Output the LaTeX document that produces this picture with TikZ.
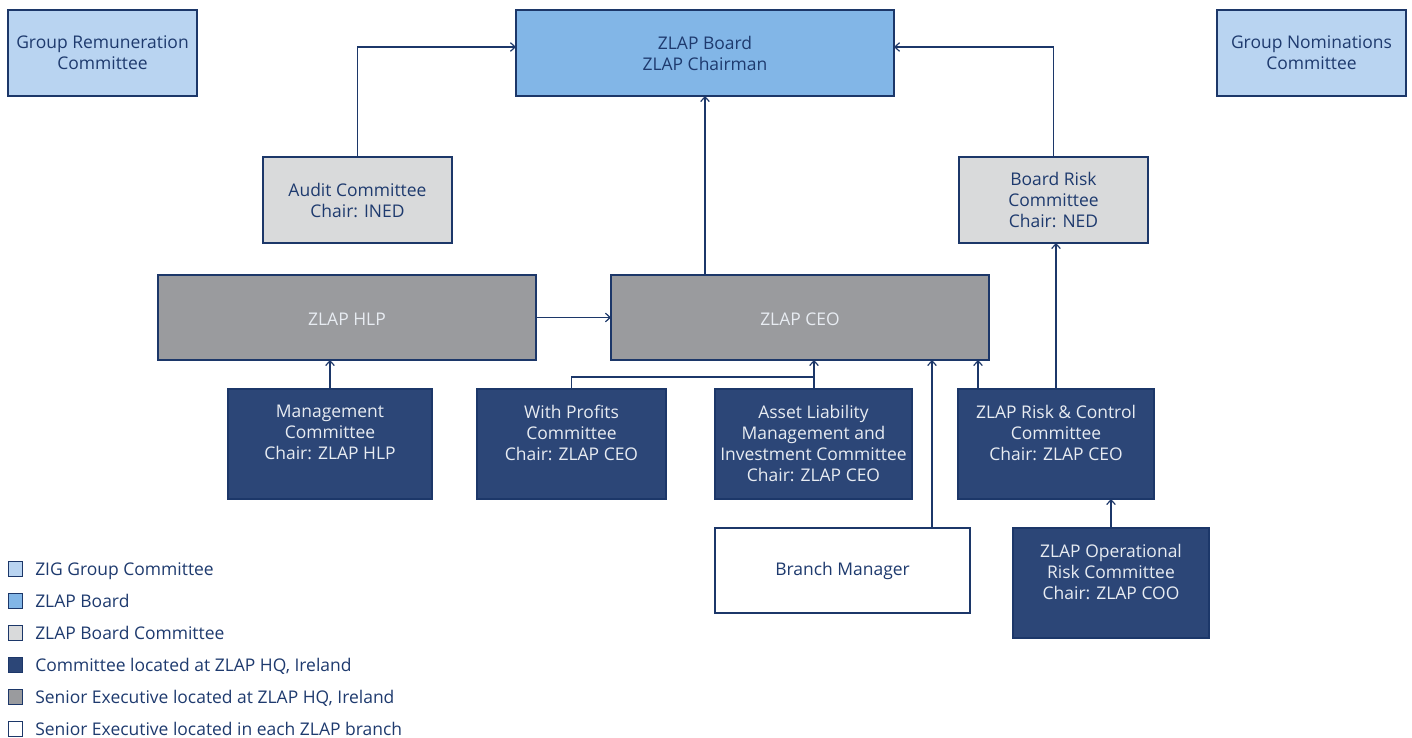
\documentclass[tikz,border=0pt]{standalone}
\usepackage{fontspec}
\setmainfont{Open Sans}
\usetikzlibrary{arrows.meta}
\definecolor{navy}{HTML}{1C3769}
\definecolor{txtnavy}{HTML}{1E3A6E}
\definecolor{lblue}{HTML}{B9D4F1}
\definecolor{bblue}{HTML}{82B6E7}
\definecolor{lgray}{HTML}{D9DADB}
\definecolor{mgray}{HTML}{9A9B9E}
\definecolor{dblue}{HTML}{2C4677}
\definecolor{ltext}{HTML}{E8ECF2}
\begin{document}
\begin{tikzpicture}[x=0.75pt,y=-0.75pt,
  every node/.style={font=\fontsize{13.1}{15.75}\selectfont},
  box/.style={draw=navy,line width=1pt,inner sep=0pt,outer sep=0pt,align=center,text=txtnavy},
  wide/.style={box,minimum width=141.75pt,minimum height=64.5pt},
  grpbox/.style={wide,fill=lblue},
  bcbox/.style={wide,fill=lgray},
  exbox/.style={box,fill=mgray,text=ltext,minimum width=283.5pt,minimum height=63.75pt,text height=2.3ex,text depth=0pt},
  dkbox/.style={box,fill=dblue,minimum height=82.5pt},
  dktext/.style={anchor=north,align=center,text=ltext,inner sep=0pt},
  arr/.style={draw=navy,line width=0.9pt,-{Straight Barb[length=3.5pt,width=6.5pt]}},
  ln/.style={draw=navy,line width=0.9pt},
  lgsq/.style={draw=navy,line width=0.9pt,minimum size=11pt,inner sep=0pt},
  lgtx/.style={anchor=west,text=txtnavy,inner sep=0pt,text height=2ex,text depth=0.1ex}]
\useasboundingbox (0,0) rectangle (1412,738);
% top row
\node[grpbox] (grem) at (102.5,53) {Group Remuneration\\Committee};
\node[box,fill=bblue,minimum width=283.5pt,minimum height=64.5pt] (board) at (705,53) {ZLAP Board\\ZLAP Chairman};
\node[grpbox] (gnom) at (1311.5,53) {Group Nominations\\Committee};
% board committees
\node[bcbox] (audit) at (357.5,200) {Audit Committee\\Chair: INED};
\node[bcbox] (brisk) at (1053.5,200) {Board Risk\\Committee\\Chair: NED};
% executives
\node[exbox] (hlp) at (347,317.5) {ZLAP HLP};
\node[exbox] (ceo) at (800,317.5) {ZLAP CEO};
% committees
\node[dkbox,minimum width=153pt] (mgmt) at (330,444) {};
\node[dktext] (mgmtt) at ([yshift=-12pt]mgmt.north) {Management\\Committee\\Chair: ZLAP HLP};
\node[dkbox,minimum width=141.75pt] (wp) at (571.5,444) {};
\node[dktext] (wpt) at ([yshift=-12pt]wp.north) {With Profits\\Committee\\Chair: ZLAP CEO};
\node[dkbox,minimum width=147.75pt] (alm) at (813.5,444) {};
\node[dktext] (almt) at ([yshift=-12pt]alm.north) {Asset Liability\\Management and\\Investment Committee\\Chair: ZLAP CEO};
\node[dkbox,minimum width=147pt] (rc) at (1056,444) {};
\node[dktext] (rct) at ([yshift=-12pt]rc.north) {ZLAP Risk \& Control\\Committee\\Chair: ZLAP CEO};
\node[box,fill=white,minimum width=191.25pt,minimum height=63.75pt] (branch) at (842.5,570.5) {Branch Manager};
\node[dkbox,minimum width=147pt] (oprc) at (1111,583) {};
\node[dktext] (oprct) at ([yshift=-12pt]oprc.north) {ZLAP Operational\\Risk Committee\\Chair: ZLAP COO};
% helper coordinates
\coordinate (j) at (814,377);
\coordinate (bmx) at (932,0);
\coordinate (rcx) at (978,0);
% connectors
\draw[arr] (audit.north) |- ([yshift=4.5pt]board.west);
\draw[arr] (brisk.north) |- ([yshift=4.5pt]board.east);
\draw[arr] (ceo.north -| board.south) -- (board.south);
\draw[arr] (hlp.east) -- (ceo.west);
\draw[arr] (mgmt.north) -- (mgmt.north |- hlp.south);
\draw[ln] (wp.north) |- (j);
\draw[arr] (j |- alm.north) -- (j |- ceo.south);
\draw[arr] (branch.north -| bmx) -- (bmx |- ceo.south);
\draw[arr] (rc.north -| rcx) -- (rcx |- ceo.south);
\draw[arr] (rc.north) -- (rc.north |- brisk.south);
\draw[arr] (oprc.north) -- (oprc.north |- rc.south);
% legend
\node[lgsq,fill=lblue] (l1) at (15.5,569) {};
\node[lgtx] (l1t) at (35,569) {ZIG Group Committee};
\node[lgsq,fill=bblue] (l2) at (15.5,601) {};
\node[lgtx] (l2t) at (35,601) {ZLAP Board};
\node[lgsq,fill=lgray] (l3) at (15.5,633) {};
\node[lgtx] (l3t) at (35,633) {ZLAP Board Committee};
\node[lgsq,fill=dblue] (l4) at (15.5,665) {};
\node[lgtx] (l4t) at (35,665) {Committee located at ZLAP HQ, Ireland};
\node[lgsq,fill=mgray] (l5) at (15.5,697) {};
\node[lgtx] (l5t) at (35,697) {Senior Executive located at ZLAP HQ, Ireland};
\node[lgsq,fill=white] (l6) at (15.5,729) {};
\node[lgtx] (l6t) at (35,729) {Senior Executive located in each ZLAP branch};
\end{tikzpicture}
\end{document}
